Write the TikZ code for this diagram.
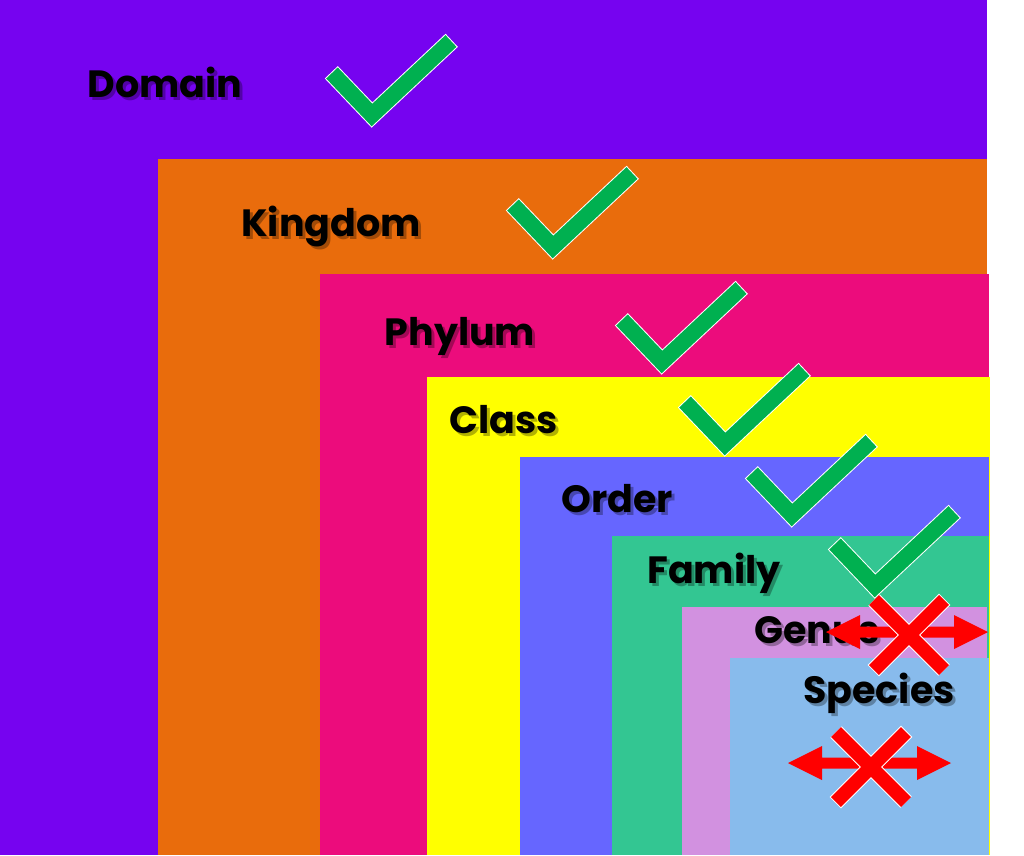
\documentclass[tikz,border=0pt]{standalone}
\usepackage{fontspec}
\setmainfont{Poppins}
\usetikzlibrary{calc}

\definecolor{domainc}{RGB}{118,3,240}
\definecolor{kingdomc}{RGB}{233,108,12}
\definecolor{phylumc}{RGB}{236,12,124}
\definecolor{classc}{RGB}{255,255,0}
\definecolor{orderc}{RGB}{102,102,255}
\definecolor{familyc}{RGB}{51,198,146}
\definecolor{genusc}{RGB}{210,145,224}
\definecolor{speciesc}{RGB}{136,187,236}
\definecolor{tickgreen}{RGB}{0,176,80}

% label with a soft drop shadow
\newcommand{\ranklabel}[4]{%
  \node[lbl, text=black, opacity=.3, xshift=3pt, yshift=-3pt] (#1s) at (#2,#3) {#4};
  \node[lbl] (#1) at (#2,#3) {#4};
}
% green tick, #1 = its lower corner
\newcommand{\tickmark}[1]{%
  \draw[tickedge] ($(#1)+(-40,-42)$) -- (#1) -- ($(#1)+(79,-74)$);
  \draw[tickbody] ($(#1)+(-40,-42)$) -- (#1) -- ($(#1)+(79,-74)$);
}
% red cross over a double arrow, #1 = centre, #2/#3 = arrow tips
\newcommand{\crossarrow}[3]{%
  \fill[red] (#2) -- ++(34,-17) -- ++(0,11.5) -- ($(#3)+(-34,-5.5)$) -- ++(0,-11.5)
     -- (#3) -- ++(-34,17) -- ++(0,-11.5) -- ($(#2)+(34,5.5)$) -- ++(0,11.5) -- cycle;
  \draw[crossedge] ($(#1)+(-35,-35)$) -- ($(#1)+(35,35)$) ($(#1)+(35,-35)$) -- ($(#1)+(-35,35)$);
  \draw[crossbody] ($(#1)+(-35,-35)$) -- ($(#1)+(35,35)$) ($(#1)+(35,-35)$) -- ($(#1)+(-35,35)$);
}

\begin{document}
\begin{tikzpicture}[x=1pt, y=-1pt,
                lbl/.style={font=\fontsize{38}{42}\selectfont\bfseries, anchor=base, inner sep=0pt},
                tickedge/.style={draw=white, line width=18pt, miter limit=10, shorten <=-1pt, shorten >=-1pt},
                tickbody/.style={draw=tickgreen, line width=16pt, miter limit=10},
                crossedge/.style={draw=white, line width=16pt, shorten <=-1pt, shorten >=-1pt},
                crossbody/.style={draw=red, line width=14pt}]

    \useasboundingbox (0,0) rectangle (1024,855);

    % nested ranks
    \foreach \x/\y/\r/\c in {0/0/987/domainc, 158/159/987/kingdomc, 320/274/989/phylumc,
                             427/377/990/classc, 520/457/989/orderc, 612/536/989/familyc,
                             682/607/987/genusc, 730/658/989/speciesc}
        \fill[\c] (\x,\y) rectangle (\r,855);

    \ranklabel{domain}{165}{97}{Domain}
    \ranklabel{kingdom}{331}{236}{Kingdom}
    \ranklabel{phylum}{460}{345}{Phylum}
    \ranklabel{class}{504}{433}{Class}
    \ranklabel{order}{617}{512}{Order}
    \ranklabel{family}{714}{583}{Family}
    \ranklabel{genus}{817}{643}{Genus}
    \ranklabel{species}{879}{703}{Species}

    \coordinate (tdomain)  at (372,115);
    \coordinate (tkingdom) at (553,247);
    \coordinate (tphylum)  at (662,362);
    \coordinate (tclass)   at (725,444);
    \coordinate (torder)   at (792,515);
    \coordinate (tfamily)  at (875,586);
    \tickmark{tdomain}
    \tickmark{tkingdom}
    \tickmark{tphylum}
    \tickmark{tclass}
    \tickmark{torder}
    \tickmark{tfamily}

    \coordinate (xgenus)   at (909,635);
    \coordinate (agenusl)  at (826,632);
    \coordinate (agenusr)  at (988,632);
    \coordinate (xspecies) at (871,767);
    \coordinate (aspeciesl) at (788,763);
    \coordinate (aspeciesr) at (951,763);
    \crossarrow{xgenus}{agenusl}{agenusr}
    \crossarrow{xspecies}{aspeciesl}{aspeciesr}

\end{tikzpicture}
\end{document}
